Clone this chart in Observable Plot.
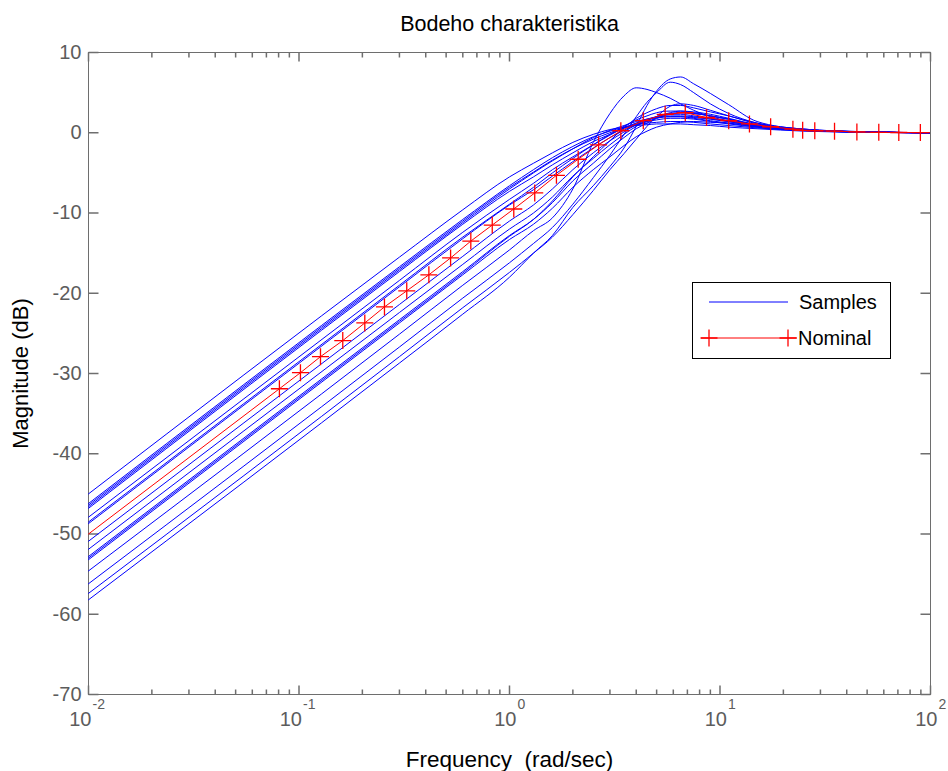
<!DOCTYPE html>
<html><head><meta charset="utf-8">
<script src="https://cdn.jsdelivr.net/npm/d3@7"></script>
<script src="https://cdn.jsdelivr.net/npm/@observablehq/plot@0.6"></script>
<style>body{margin:0;background:#fff}#chart{width:948px;height:771px}</style>
</head><body><div id="chart"></div>
<script>
// ---- data ----
const titleText = "Bodeho charakteristika";
const xLabelText = "Frequency  (rad/sec)";
const yLabelText = "Magnitude (dB)";
const yTickValues = [10, 0, -10, -20, -30, -40, -50, -60, -70];
const xTickExponents = [-2, -1, 0, 1, 2];

const freqGrid = [0.01, 0.3, 0.6, 1, 1.3, 1.6, 2, 2.5, 3, 3.5, 4, 4.5, 5, 5.8, 6.5, 7.5, 9, 11, 15, 25, 50, 100];
const sample01 = [-45.0, -15.5, -9.6, -5.5, -3.8, -2.5, -1.2, -0.2, 0.4, 0.7, 0.9, 1.0, 1.1, 1.1, 1.1, 1.0, 0.9, 0.7, 0.5, 0.2, 0.05, 0];
const sample02 = [-46.2, -16.7, -10.8, -6.6, -4.6, -3.1, -1.7, -0.5, 0.2, 0.7, 1.0, 1.2, 1.3, 1.4, 1.4, 1.3, 1.1, 0.9, 0.6, 0.25, 0.07, 0];
const sample03 = [-46.4, -16.9, -11.0, -6.8, -4.9, -3.4, -2.0, -0.8, 0.0, 0.6, 1.0, 1.4, 1.6, 1.8, 1.8, 1.7, 1.4, 1.1, 0.7, 0.3, 0.08, 0];
const sample04 = [-46.6, -17.1, -11.2, -7.0, -5.0, -3.5, -2.0, -0.6, 0.3, 0.9, 1.4, 1.7, 1.9, 2.0, 2.0, 1.8, 1.5, 1.2, 0.7, 0.3, 0.08, 0];
const sample05 = [-46.8, -17.3, -11.4, -7.3, -5.5, -4.0, -2.5, -1.1, -0.2, 0.6, 1.2, 1.7, 2.0, 2.3, 2.3, 2.1, 1.8, 1.4, 0.8, 0.3, 0.08, 0];
const sample06 = [-47.9, -18.4, -12.4, -8.3, -6.3, -4.6, -3.0, -1.5, -0.3, 0.6, 1.2, 1.6, 1.9, 2.1, 2.1, 2.0, 1.7, 1.4, 0.8, 0.3, 0.08, 0];
const sample07 = [-48.5, -19.0, -13.0, -8.9, -6.8, -5.0, -3.2, -1.5, -0.2, 0.8, 1.6, 2.1, 2.5, 2.7, 2.7, 2.5, 2.1, 1.7, 0.9, 0.35, 0.1, 0];
const sample08 = [-48.7, -19.2, -13.2, -9.0, -7.1, -5.4, -3.6, -1.9, -0.6, 0.3, 1.0, 1.4, 1.8, 2.0, 2.0, 1.9, 1.7, 1.4, 0.8, 0.3, 0.08, 0];
const sample09 = [-50.9, -21.4, -15.4, -11.0, -9.0, -7.0, -4.6, -2.5, -1.0, 0.1, 1.0, 1.6, 2.0, 2.4, 2.5, 2.4, 2.1, 1.7, 0.9, 0.35, 0.1, 0];
const sample10 = [-51.9, -22.4, -16.4, -12.0, -10.0, -8.0, -5.4, -3.2, -1.5, -0.2, 0.8, 1.5, 2.0, 2.5, 2.7, 2.6, 2.3, 1.8, 1.0, 0.4, 0.1, 0];
const sample11 = [-52.8, -23.3, -17.3, -12.8, -10.8, -8.7, -6.0, -3.8, -2.0, -0.6, 0.5, 1.2, 1.8, 2.3, 2.5, 2.4, 2.1, 1.7, 0.9, 0.35, 0.1, 0];
const sample12 = [-53.0, -23.5, -17.5, -12.9, -10.8, -8.5, -5.5, -3.0, -1.0, 0.6, 1.8, 2.5, 3.0, 3.4, 3.4, 3.1, 2.6, 2.1, 1.1, 0.4, 0.1, 0];
const sample13 = [-53.2, -23.7, -17.7, -13.3, -11.4, -9.4, -6.8, -4.6, -3.0, -1.6, -0.5, 0.2, 0.7, 1.1, 1.3, 1.4, 1.3, 1.2, 0.8, 0.3, 0.08, 0];
const sample14 = [-54.6, -25.1, -19.0, -14.6, -12.2, -10.6, -7.0, -1.2, 2.4, 4.6, 5.6, 5.4, 5.0, 4.3, 3.6, 2.8, 2.0, 1.5, 0.9, 0.35, 0.1, 0];
const sample15 = [-56.2, -26.7, -20.6, -16.2, -13.8, -11.8, -8.9, -5.6, -2.8, -0.2, 2.0, 3.8, 5.0, 6.3, 6.0, 5.0, 3.6, 2.4, 1.2, 0.45, 0.1, 0];
const sample16 = [-57.4, -27.9, -21.8, -17.4, -15.0, -13.0, -10.2, -7.2, -4.6, -2.6, -0.8, 0.8, 2.0, 3.3, 3.6, 3.4, 2.8, 2.1, 1.2, 0.45, 0.12, 0];
const sample17 = [-58.2, -28.7, -22.6, -18.0, -15.0, -12.8, -9.3, -6.6, -4.2, -1.9, 0.8, 3.4, 5.2, 6.7, 6.95, 6.1, 4.9, 3.5, 1.4, 0.45, 0.12, 0];

const nominalFreqs = [0.01, 0.0807, 0.1016, 0.1265, 0.1614, 0.2054, 0.2547, 0.325, 0.414, 0.525, 0.655, 0.828, 1.048, 1.318, 1.671, 2.12, 2.65, 3.38, 4.32, 5.49, 6.84, 8.63, 11.0, 13.8, 17.4, 22.2, 24.7, 28.2, 35.0, 44.7, 56.8, 70.7, 89.5, 100];
const nominalDb = [-50, -31.9, -29.9, -27.9, -25.9, -23.7, -21.7, -19.7, -17.7, -15.6, -13.5, -11.5, -9.5, -7.5, -5.3, -3.3, -1.5, 0.25, 1.5, 2.3, 2.5, 1.9, 1.5, 1.1, 0.75, 0.45, 0.3, 0.25, 0.2, 0.1, 0.05, 0.03, 0.02, 0.01];

// ---- build tables ----
const sampleSeries = [sample01, sample02, sample03, sample04, sample05, sample06, sample07, sample08, sample09,
  sample10, sample11, sample12, sample13, sample14, sample15, sample16, sample17];
const samples = sampleSeries.flatMap((vals, k) => vals.map((db, i) => ({id: k, f: freqGrid[i], db})));
const nominal = nominalFreqs.map((f, i) => ({f, db: nominalDb[i]}));
const nominalMarkers = nominal.slice(1, -1);

const xDomain = [0.01, 100];
const yDomain = [-70, 10];
const logTicks = d3.scaleLog().domain(xDomain).ticks();
const majorX = xTickExponents.map(e => Math.pow(10, e));
const minorX = logTicks.filter(t => !majorX.some(m => Math.abs(m - t) / m < 1e-9));

const seg = (dx, dy) => ({draw(ctx) { ctx.moveTo(0, 0); ctx.lineTo(dx, dy); }});
const plusSym = {draw(ctx, size) { const r = Math.sqrt(size / Math.PI); ctx.moveTo(-r, 0); ctx.lineTo(r, 0); ctx.moveTo(0, -r); ctx.lineTo(0, r); }};

const axisColor = "#6e6e6e";
const labelColor = "#5c5c5c";
const font = "'Liberation Sans', Arial, Helvetica, sans-serif";

const chart = Plot.plot({
  width: 948, height: 771,
  marginLeft: 88, marginRight: 18, marginTop: 52, marginBottom: 77,
  style: {fontFamily: font, background: "#fff"},
  x: {type: "log", domain: xDomain, axis: null},
  y: {domain: yDomain, axis: null},
  marks: [
    Plot.frame({stroke: axisColor}),
    // y ticks (inward, both sides)
    Plot.dot(yTickValues, {x: () => xDomain[0], y: d => d, symbol: seg(10, 0), r: 1, stroke: axisColor, fill: "none"}),
    Plot.dot(yTickValues, {x: () => xDomain[1], y: d => d, symbol: seg(-10, 0), r: 1, stroke: axisColor, fill: "none"}),
    // x ticks (inward, bottom and top)
    Plot.dot(majorX, {x: d => d, y: () => yDomain[0], symbol: seg(0, -9), r: 1, stroke: axisColor, fill: "none"}),
    Plot.dot(majorX, {x: d => d, y: () => yDomain[1], symbol: seg(0, 9), r: 1, stroke: axisColor, fill: "none"}),
    Plot.dot(minorX, {x: d => d, y: () => yDomain[0], symbol: seg(0, -5), r: 1, stroke: axisColor, fill: "none"}),
    Plot.dot(minorX, {x: d => d, y: () => yDomain[1], symbol: seg(0, 5), r: 1, stroke: axisColor, fill: "none"}),
    // samples
    Plot.line(samples, {x: "f", y: "db", z: "id", stroke: "#0000ff", strokeWidth: 1, curve: "monotone-x", clip: true}),
    // nominal
    Plot.line(nominal, {x: "f", y: "db", stroke: "#ff0000", strokeWidth: 1, clip: true}),
    Plot.dot(nominalMarkers, {x: "f", y: "db", symbol: plusSym, r: 8.5, stroke: "#ff0000", fill: "none", strokeWidth: 1.3}),
    // y tick labels
    Plot.text(yTickValues, {x: () => xDomain[0], y: d => d, text: d => String(d), textAnchor: "end", dx: -7, fontSize: 20, fill: labelColor}),
    // x tick labels: base "10" and exponent
    Plot.text(majorX.filter(d => d < 1), {x: d => d, y: () => yDomain[0], text: () => "10", textAnchor: "end", dx: 3, dy: 25, fontSize: 20, fill: labelColor}),
    Plot.text(majorX.filter(d => d >= 1), {x: d => d, y: () => yDomain[0], text: () => "10", textAnchor: "end", dx: 7, dy: 25, fontSize: 20, fill: labelColor}),
    Plot.text(majorX.filter(d => d < 1), {x: d => d, y: () => yDomain[0], text: d => String(Math.round(Math.log10(d))), textAnchor: "start", dx: 4, dy: 10, fontSize: 14, fill: labelColor}),
    Plot.text(majorX.filter(d => d >= 1), {x: d => d, y: () => yDomain[0], text: d => String(Math.round(Math.log10(d))), textAnchor: "start", dx: 8, dy: 10, fontSize: 14, fill: labelColor}),
    // titles
    Plot.text([titleText], {frameAnchor: "top", lineAnchor: "middle", textAnchor: "middle", dy: -28, fontSize: 21.5, fill: "#000"}),
    Plot.text([xLabelText], {frameAnchor: "bottom", lineAnchor: "middle", textAnchor: "middle", dy: 65, fontSize: 22.5, fill: "#000"}),
    Plot.text([yLabelText], {frameAnchor: "left", lineAnchor: "middle", textAnchor: "middle", dx: -68, rotate: -90, fontSize: 22, fill: "#000"})
  ]
});
document.getElementById("chart").appendChild(chart);

// ---- legend box ----
const svg = d3.select(chart);
const lg = svg.append("g").attr("font-family", font).attr("font-size", 20).attr("text-anchor", "start").attr("fill", "#000");
lg.append("rect").attr("x", 692.5).attr("y", 282.5).attr("width", 198).attr("height", 76)
  .attr("fill", "#fff").attr("stroke", "#000");
lg.append("line").attr("x1", 709).attr("x2", 788).attr("y1", 302).attr("y2", 302).attr("stroke", "#0000ff");
lg.append("text").attr("x", 799).attr("y", 302).attr("dy", "0.35em").text("Samples");
lg.append("line").attr("x1", 701).attr("x2", 797).attr("y1", 338).attr("y2", 338).attr("stroke", "#ff0000");
[709, 788].forEach(x => lg.append("path").attr("d", `M${x - 8.5},338H${x + 8.5}M${x},329.5V346.5`).attr("stroke", "#ff0000").attr("stroke-width", 1.3));
lg.append("text").attr("x", 798).attr("y", 338).attr("dy", "0.35em").text("Nominal");
</script>
</body></html>
